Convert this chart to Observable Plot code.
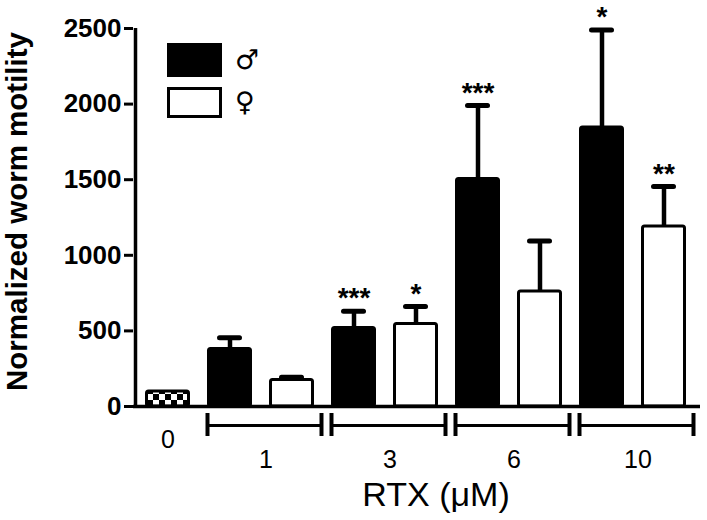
<!DOCTYPE html>
<html>
<head>
<meta charset="utf-8">
<script src="https://cdn.jsdelivr.net/npm/d3@7"></script>
<script src="https://cdn.jsdelivr.net/npm/@observablehq/plot@0.6"></script>
<style>
  html, body { margin: 0; padding: 0; background: white; }
  #wrap { position: relative; width: 707px; height: 520px; font-family: "Liberation Sans", Arial, sans-serif; }
  .lg-box { position: absolute; box-sizing: border-box; }
  .lg-sym { position: absolute; font-family: "DejaVu Sans", sans-serif; font-weight: bold; font-size: 27px; line-height: 1; color: black; }
</style>
</head>
<body>
<div id="wrap"></div>
<script>
// ---- data ----
const doses = ["1", "3", "6", "10"];
const controlLabel = "0";
const controlMean = 100;
const maleMean = [380, 520, 1505, 1845];
const maleUpper = [455, 630, 1990, 2490];
const maleSig = ["", "***", "***", "*"];
const femaleMean = [176, 545, 760, 1190];
const femaleUpper = [194, 661, 1095, 1455];
const femaleSig = ["", "*", "", "**"];
const yTicks = [0, 500, 1000, 1500, 2000, 2500];
const yTitle = "Normalized worm motility";
const xTitle = "RTX (\u03bcM)";
const legendLabels = ["\u2642", "\u2640"];

// ---- build rows ----
const slots = [controlLabel];
const rows = [{slot: controlLabel, dose: controlLabel, sex: "c", mean: controlMean}];
const groups = [];
doses.forEach((d, i) => {
  const m = d + "\u2642", f = d + "\u2640";
  slots.push(m, f);
  rows.push({slot: m, dose: d, sex: "m", mean: maleMean[i], upper: maleUpper[i], sig: maleSig[i]});
  rows.push({slot: f, dose: d, sex: "f", mean: femaleMean[i], upper: femaleUpper[i], sig: femaleSig[i]});
  groups.push({dose: d, m, f});
});
const errRows = rows.filter(r => r.upper != null);
const sigRows = rows.filter(r => r.sig);

// ---- layout ----
const W = 707, H = 520;
const mL = 133, mR = 9, mT = 28, mB = 114;
const padIn = 0.28, padOut = 0.16;
const step = (W - mL - mR) / (slots.length - padIn + 2 * padOut);
const bw = step * (1 - padIn);
const font = "'Liberation Sans', Arial, sans-serif";

const plot = Plot.plot({
  width: W, height: H,
  marginLeft: mL, marginRight: mR, marginTop: mT, marginBottom: mB,
  style: {fontFamily: font, background: "white", color: "black", overflow: "visible"},
  x: {domain: slots, paddingInner: padIn, paddingOuter: padOut, axis: null},
  y: {domain: [0, 2500], axis: null},
  marks: [
    // bars
    Plot.barY(rows, {
      x: "slot", y: "mean",
      fill: d => d.sex === "m" ? "black" : d.sex === "f" ? "white" : "url(#checker)",
      stroke: "black", strokeWidth: 3, rx: 2, insetLeft: 1.5, insetRight: 1.5
    }),
    // error bars (upper only)
    Plot.ruleX(errRows, {x: "slot", y1: "mean", y2: "upper", stroke: "black", strokeWidth: 4.5}),
    Plot.tickY(errRows, {x: "slot", y: "upper", stroke: "black", strokeWidth: 5, strokeLinecap: "round", insetLeft: 12.5, insetRight: 12.5}),
    // significance stars
    Plot.text(sigRows, {x: "slot", y: "upper", text: "sig", lineAnchor: "bottom", dy: -4, fontSize: 28, fontWeight: "bold", fontFamily: font}),
    // x axis line
    Plot.ruleY([0], {stroke: "black", strokeWidth: 3.5, insetRight: -2}),
    // y axis line
    Plot.ruleX([controlLabel], {x: d => d, y1: 0, y2: 2500, dx: -(padOut * step + bw / 2), stroke: "black", strokeWidth: 3.5}),
    Plot.axisY({ticks: yTicks, tickFormat: d => String(d), tickSize: 9, tickPadding: 3, strokeWidth: 3, fontSize: 26, fontWeight: "bold", fontFamily: font, label: null}),
    // group brackets
    Plot.ruleY(groups, {x1: "m", x2: "f", y: 0, dy: 19, insetRight: -7, stroke: "black", strokeWidth: 3}),
    Plot.ruleX(groups, {x: "m", y1: 0, y2: 0, dx: -bw / 2, insetTop: 7, insetBottom: -30, stroke: "black", strokeWidth: 4}),
    Plot.ruleX(groups, {x: "f", y1: 0, y2: 0, dx: bw / 2 + 7, insetTop: 7, insetBottom: -30, stroke: "black", strokeWidth: 4}),
    // x labels
    Plot.text([controlLabel], {x: d => d, y: 0, text: d => d, lineAnchor: "bottom", dy: 41, fontSize: 25, fontFamily: font}),
    Plot.text(groups, {x: "m", y: 0, text: "dose", lineAnchor: "bottom", dx: 36, dy: 61, fontSize: 25, fontFamily: font}),
    // axis titles
    Plot.text([xTitle], {frameAnchor: "bottom", text: d => d, textAnchor: "middle", lineAnchor: "bottom", dx: 20, dy: 99, fontSize: 34, fontFamily: font}),
    Plot.text([yTitle], {frameAnchor: "left", text: d => d, textAnchor: "middle", rotate: -90, dx: -115.5, dy: -6, fontSize: 29.5, fontWeight: "bold", fontFamily: font})
  ]
});

// checker pattern for the control bar
const svg = d3.select(plot);
const defs = svg.insert("defs", ":first-child");
const pat = defs.append("pattern").attr("id", "checker").attr("patternUnits", "userSpaceOnUse")
  .attr("x", 3).attr("y", 4).attr("width", 12).attr("height", 12);
pat.append("rect").attr("width", 12).attr("height", 12).attr("fill", "white");
pat.append("rect").attr("width", 6).attr("height", 6).attr("fill", "black");
pat.append("rect").attr("x", 6).attr("y", 6).attr("width", 6).attr("height", 6).attr("fill", "black");

const wrap = document.getElementById("wrap");
wrap.appendChild(plot);

// legend
const lg = [
  {top: 43, h: 34, fill: "black", border: "none", sym: legendLabels[0], symTop: 46},
  {top: 87, h: 31, fill: "white", border: "3.5px solid black", sym: legendLabels[1], symTop: 88}
];
lg.forEach(l => {
  const b = document.createElement("div");
  b.className = "lg-box";
  Object.assign(b.style, {left: "167px", top: l.top + "px", width: "55px", height: l.h + "px", background: l.fill, border: l.border});
  wrap.appendChild(b);
  const s = document.createElement("div");
  s.className = "lg-sym";
  s.textContent = l.sym;
  Object.assign(s.style, {left: "235px", top: l.symTop + "px"});
  wrap.appendChild(s);
});
</script>
</body>
</html>
